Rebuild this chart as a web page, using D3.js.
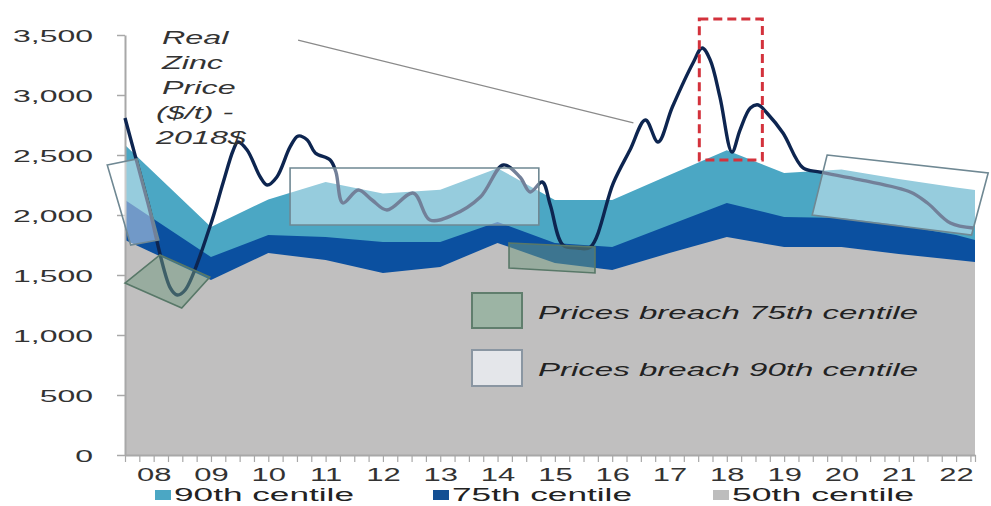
<!DOCTYPE html>
<html><head><meta charset="utf-8">
<script src="https://cdn.jsdelivr.net/npm/d3@7"></script>
<style>
html,body{margin:0;padding:0;background:#fff;}
svg{display:block;font-family:"Liberation Sans",Arial,sans-serif;}
</style></head><body>
<svg id="c" width="991" height="506"></svg>
<script>
// ---------- data ----------
const years = [2008.0, 2009.5, 2010.5, 2011.5, 2012.5, 2013.5, 2014.5, 2015.5, 2016.5, 2017.5, 2018.5, 2019.5, 2020.5, 2021.5, 2022.5, 2022.83];
const p90 = [2583, 1900, 2130, 2275, 2180, 2210, 2390, 2125, 2125, 2333, 2540, 2350, 2380, 2300, 2230, 2208];
const p75 = [2125, 1650, 1833, 1817, 1775, 1775, 1942, 1767, 1733, 1917, 2100, 1983, 1975, 1917, 1833, 1792];
const p50 = [1792, 1458, 1683, 1625, 1517, 1567, 1767, 1600, 1542, 1683, 1817, 1733, 1733, 1675, 1625, 1608];

const priceT = [2008.00, 2008.40, 2008.79, 2008.91, 2009.05, 2009.48, 2009.71, 2009.89, 2009.97, 2010.13, 2010.36, 2010.48, 2010.65, 2010.88, 2011.02, 2011.18, 2011.32, 2011.58, 2011.68, 2011.80, 2012.07, 2012.31, 2012.57, 2013.03, 2013.32, 2013.72, 2014.20, 2014.60, 2014.89, 2015.07, 2015.28, 2015.42, 2015.64, 2015.89, 2016.12, 2016.52, 2016.81, 2017.08, 2017.30, 2017.55, 2017.91, 2018.07, 2018.21, 2018.38, 2018.59, 2018.73, 2018.91, 2019.05, 2019.20, 2019.48, 2019.83, 2020.13, 2020.83, 2021.70, 2022.00, 2022.40, 2022.80];
const priceV = [2808, 2100, 1392, 1333, 1375, 1900, 2267, 2542, 2608, 2542, 2317, 2250, 2317, 2567, 2658, 2625, 2517, 2458, 2358, 2100, 2208, 2125, 2042, 2183, 1958, 2000, 2150, 2417, 2317, 2192, 2275, 2083, 1750, 1725, 1733, 2267, 2542, 2792, 2608, 2900, 3267, 3392, 3292, 2983, 2525, 2708, 2892, 2917, 2850, 2683, 2392, 2358, 2292, 2192, 2100, 1933, 1892];

const yTicks = [0, 500, 1000, 1500, 2000, 2500, 3000, 3500];
const yTickLabels = ["0", "500", "1,000", "1,500", "2,000", "2,500", "3,000", "3,500"];
const xLabelYears = [2008, 2009, 2010, 2011, 2012, 2013, 2014, 2015, 2016, 2017, 2018, 2019, 2020, 2021, 2022];
const xLabels = ["08", "09", "10", "11", "12", "13", "14", "15", "16", "17", "18", "19", "20", "21", "22"];

// annotation shapes (year, value corners)
const breach90Boxes = [
  [[2007.69, 2417], [2008.21, 2467], [2008.59, 1792], [2008.10, 1750]],
  [[2010.88, 2392], [2015.22, 2392], [2015.22, 1917], [2010.88, 1917]],
  [[2020.25, 2500], [2023.06, 2350], [2022.77, 1833], [2019.99, 2000]]
];
const breach75Boxes = [
  [[2008.00, 1433], [2008.61, 1667], [2009.48, 1483], [2008.99, 1225]],
  [[2014.70, 1767], [2016.20, 1733], [2016.20, 1517], [2014.70, 1558]]
];
const highlightRect = [[2018.02, 3633], [2019.12, 2458]];
const leader = [[2011.02, 3458], [2016.87, 2767]];
const annotationLines = ["Real", "Zinc", "Price", "($/t) -", "2018$"];
const seriesNames = ["90th centile", "75th centile", "50th centile"];
const breachNames = ["Prices breach 75th centile", "Prices breach 90th centile"];

// ---------- chart ----------
const svg = d3.select("#c");
const x = d3.scaleLinear().domain([2008, 2022.83]).range([125, 975]);
const y = d3.scaleLinear().domain([0, 3500]).range([455, 35]);

const C90 = "#4ba7c4", C75 = "#0b50a0", C50 = "#c0bfbf";

function stretch(sel, f) {
  sel.each(function () {
    const w = this.getComputedTextLength();
    d3.select(this).attr("textLength", w * f).attr("lengthAdjust", "spacingAndGlyphs");
  });
}

const mkArea = arr => d3.area().x((d, i) => x(years[i])).y0(y(0)).y1((d, i) => y(arr[i]));
svg.append("path").datum(p90).attr("d", mkArea(p90)).attr("fill", C90);
svg.append("path").datum(p75).attr("d", mkArea(p75)).attr("fill", C75);
svg.append("path").datum(p50).attr("d", mkArea(p50)).attr("fill", C50);

// y axis
const yAxis = svg.append("g").attr("transform", `translate(${x(2008)},0)`)
  .call(d3.axisLeft(y).tickValues(yTicks).tickFormat((d, i) => yTickLabels[i]).tickSize(8).tickSizeOuter(0).tickPadding(24));
yAxis.select(".domain").attr("stroke", "#a8a8a8").attr("stroke-width", 2);
yAxis.selectAll(".tick line").attr("stroke", "#a8a8a8").attr("stroke-width", 1.5);
yAxis.selectAll(".tick text").attr("font-size", 17).attr("fill", "#333").attr("font-family", "Liberation Sans, Arial, sans-serif").attr("dy", "0.36em");
stretch(yAxis.selectAll(".tick text"), 1.88);

// x axis (quarterly ticks)
const quarters = d3.range(0, 60).map(k => 2008 + k * 0.25).concat([2022.83]);
const xAxis = svg.append("g").attr("transform", `translate(0,${y(0)})`)
  .call(d3.axisBottom(x).tickValues(quarters).tickFormat("").tickSize(7).tickSizeOuter(0));
xAxis.select(".domain").attr("stroke", "#a8a8a8").attr("stroke-width", 2);
xAxis.selectAll(".tick line").attr("stroke", "#a8a8a8").attr("stroke-width", 1.2);

const xLab = svg.append("g").attr("transform", `translate(0,${y(0)})`)
  .call(d3.axisBottom(x).tickValues(xLabelYears.map(v => v + 0.5)).tickFormat((d, i) => xLabels[i]).tickSize(0).tickPadding(13));
xLab.select(".domain").remove();
xLab.selectAll(".tick text").attr("font-size", 18).attr("fill", "#333").attr("font-family", "Liberation Sans, Arial, sans-serif");
stretch(xLab.selectAll(".tick text"), 1.72);

// price line
const line = d3.line().x((d, i) => x(priceT[i])).y((d, i) => y(priceV[i])).curve(d3.curveCatmullRom.alpha(0.5));
svg.append("path").datum(priceV).attr("d", line).attr("fill", "none")
  .attr("stroke", "#0d2550").attr("stroke-width", 3.4).attr("stroke-linejoin", "round");

// breach boxes
const poly = pts => "M" + pts.map(p => `${x(p[0])},${y(p[1])}`).join("L") + "Z";
svg.selectAll(".b90").data(breach90Boxes).join("path").attr("class", "b90")
  .attr("d", poly).attr("fill", "#ffffff").attr("fill-opacity", 0.42)
  .attr("stroke", "#6f8893").attr("stroke-width", 1.6);
svg.selectAll(".b75").data(breach75Boxes).join("path").attr("class", "b75")
  .attr("d", poly).attr("fill", "#6f9a80").attr("fill-opacity", 0.5)
  .attr("stroke", "#587868").attr("stroke-width", 1.6);

// red dashed highlight
svg.append("rect")
  .attr("x", x(highlightRect[0][0])).attr("y", y(highlightRect[0][1]))
  .attr("width", x(highlightRect[1][0]) - x(highlightRect[0][0]))
  .attr("height", y(highlightRect[1][1]) - y(highlightRect[0][1]))
  .attr("fill", "none").attr("stroke", "#d3323c").attr("stroke-width", 3).attr("stroke-dasharray", "9,5");

// leader line
svg.append("line")
  .attr("x1", x(leader[0][0])).attr("y1", y(leader[0][1]))
  .attr("x2", x(leader[1][0])).attr("y2", y(leader[1][1]))
  .attr("stroke", "#8a8a8a").attr("stroke-width", 1.3);

// annotation text
const ann = svg.append("g").attr("font-style", "italic").attr("font-size", 19).attr("fill", "#333");
ann.selectAll("text").data(annotationLines).join("text")
  .attr("x", (d, i) => i >= 3 ? 156 : 162).attr("y", (d, i) => 44 + i * 25).text(d => d);
stretch(ann.selectAll("text"), 1.7);

// inner legend
const il = svg.append("g");
il.append("rect").attr("x", 472).attr("y", 293).attr("width", 50).attr("height", 35)
  .attr("fill", "#9cb4a4").attr("stroke", "#607e6d").attr("stroke-width", 2);
il.append("rect").attr("x", 472).attr("y", 350).attr("width", 50).attr("height", 36)
  .attr("fill", "#e4e6ea").attr("stroke", "#8a96a2").attr("stroke-width", 2);
const ilt = il.selectAll("text").data(breachNames).join("text")
  .attr("x", 538).attr("y", (d, i) => 319 + i * 57)
  .attr("font-style", "italic").attr("font-size", 19).attr("fill", "#222").text(d => d);
ilt.attr("textLength", 380).attr("lengthAdjust", "spacingAndGlyphs");

// bottom legend
const lg = svg.append("g");
const lgCols = [C90, "#134f93", "#bdbdbd"];
const lgX = [155, 433, 713];
const lgW = [180, 180, 182];
lg.selectAll("rect").data(seriesNames).join("rect")
  .attr("x", (d, i) => lgX[i]).attr("y", 490).attr("width", 16).attr("height", 10)
  .attr("fill", (d, i) => lgCols[i]);
lg.selectAll("text").data(seriesNames).join("text")
  .attr("x", (d, i) => lgX[i] + 19).attr("y", 501)
  .attr("font-size", 18).attr("fill", "#222").text(d => d)
  .attr("textLength", (d, i) => lgW[i]).attr("lengthAdjust", "spacingAndGlyphs");
</script>
</body></html>
